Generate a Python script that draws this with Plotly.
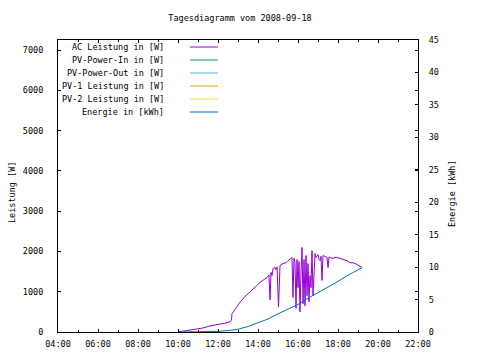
import plotly.graph_objects as go

# ---- data (time in decimal hours) ----
power_t = [10.00, 10.30, 10.60, 10.90, 11.25, 11.60, 11.85, 12.10, 12.35, 12.60,
           12.675, 12.70, 12.90, 13.10, 13.35, 13.60, 13.85, 14.10, 14.35, 14.45,
           14.55, 14.60, 14.65, 14.70, 14.75, 14.85, 14.90, 14.95, 15.025, 15.10,
           15.25, 15.40, 15.50, 15.60, 15.70, 15.75, 15.80, 15.85, 15.90, 15.95,
           16.00, 16.05, 16.10, 16.15, 16.20, 16.25, 16.30, 16.35, 16.40, 16.45,
           16.50, 16.55, 16.60, 16.65, 16.70, 16.75, 16.80, 16.85, 16.90, 17.00,
           17.05, 17.10, 17.15, 17.20, 17.25, 17.35, 17.45, 17.50, 17.55, 17.70,
           17.90, 18.10, 18.30, 18.45, 18.60, 18.75, 18.90, 19.05, 19.15, 19.20]
ac_power = [0, 20, 50, 70, 100, 150, 170, 190, 220, 250,
            300, 460, 600, 740, 880, 1000, 1110, 1230, 1320, 1350,
            1420, 800, 1480, 1400, 1580, 1600, 1550, 1620, 620, 1650,
            1700, 1720, 1770, 1800, 1850, 860, 1830, 1700, 590, 1800,
            1100, 1750, 500, 1500, 2100, 700, 1800, 650, 1900, 900,
            1700, 750, 1400, 1100, 2020, 900, 1700, 1950, 1850, 1920,
            1800, 1770, 1880, 1280, 1900, 1870, 1850, 1600, 1860, 1830,
            1850, 1830, 1800, 1770, 1720, 1720, 1690, 1650, 1620, 1600]

energy_t = [10.0, 10.5, 11.0, 11.5, 12.0, 12.5, 13.0, 13.5, 14.0, 14.5,
            15.0, 15.5, 16.0, 16.5, 17.0, 17.5, 18.0, 18.5, 19.0, 19.2]
energy = [0, 0.02, 0.05, 0.08, 0.1, 0.22, 0.42, 0.85, 1.4, 2.0,
          2.8, 3.5, 4.25, 5.2, 6.05, 6.85, 7.8, 8.75, 9.55, 9.9]

pv_power_in = []
pv_power_out = []
pv1_power = []
pv2_power = []

x_tickvals = [4, 6, 8, 10, 12, 14, 16, 18, 20, 22]
x_ticktext = ["04:00", "06:00", "08:00", "10:00", "12:00", "14:00",
              "16:00", "18:00", "20:00", "22:00"]
x_minor = [5, 7, 9, 11, 13, 15, 17, 19, 21]

series_names = ["AC Leistung in [W]", "PV-Power-In in [W]", "PV-Power-Out in [W]",
                "PV-1 Leistung in [W]", "PV-2 Leistung in [W]", "Energie in [kWh]"]
series_colors = ["#9400d3", "#009e73", "#56b4e9", "#e69f00", "#f0e442", "#0072b2"]

FONT = "DejaVu Sans Mono"
W, H = 480, 360
L, R, T, B = 58, 62, 40, 28
PW, PH = W - L - R, H - T - B

fig = go.Figure()
fig.add_trace(go.Scatter(x=power_t, y=ac_power, mode="lines", name=series_names[0],
                         line=dict(color=series_colors[0], width=1), showlegend=False))
for nm, col, vals in zip(series_names[1:5], series_colors[1:5],
                         [pv_power_in, pv_power_out, pv1_power, pv2_power]):
    fig.add_trace(go.Scatter(x=[], y=vals, mode="lines", name=nm,
                             line=dict(color=col, width=1), showlegend=False))
fig.add_trace(go.Scatter(x=energy_t, y=energy, mode="lines", name=series_names[5],
                         line=dict(color=series_colors[5], width=1), yaxis="y2",
                         showlegend=False))

# legend (gnuplot style: text right-aligned, then line sample)
legend_rows = [47, 60, 73, 86, 99, 112]
annotations = []
shapes = []
for nm, col, yy in zip(series_names, series_colors, legend_rows):
    py = (H - B - yy) / PH
    annotations.append(dict(text=nm, x=(166 - L) / PW, y=py, xref="paper", yref="paper",
                            xanchor="right", yanchor="middle", showarrow=False,
                            font=dict(family=FONT, size=8.5, color="black")))
    shapes.append(dict(type="line", xref="paper", yref="paper",
                       x0=(190 - L) / PW, x1=(218 - L) / PW, y0=py, y1=py,
                       line=dict(color=col, width=1)))

annotations.append(dict(text="Leistung [W]", x=(12 - L) / PW, y=(H - B - 193) / PH,
                        xref="paper", yref="paper", textangle=-90, showarrow=False,
                        xanchor="center", yanchor="middle",
                        font=dict(family=FONT, size=8.5, color="black")))
annotations.append(dict(text="Energie [kWh]", x=(452 - L) / PW, y=(H - B - 194) / PH,
                        xref="paper", yref="paper", textangle=-90, showarrow=False,
                        xanchor="center", yanchor="middle",
                        font=dict(family=FONT, size=8.5, color="black")))

fig.update_layout(
    width=W, height=H,
    margin=dict(l=L, r=R, t=T, b=B),
    paper_bgcolor="white", plot_bgcolor="white",
    font=dict(family=FONT, size=8.5, color="black"),
    title=dict(text="Tagesdiagramm vom 2008-09-18", x=0.5, xanchor="center",
               y=1 - 18 / H, yanchor="middle", yref="container",
               font=dict(family=FONT, size=8.5, color="black")),
    xaxis=dict(range=[4, 22], tickmode="array", tickvals=x_tickvals, ticktext=x_ticktext,
               ticks="inside", ticklen=3, tickcolor="black", showline=True,
               linecolor="black", linewidth=1, mirror="ticks", showgrid=False,
               zeroline=False, ticklabelstandoff=4,
               minor=dict(tickmode="array", tickvals=x_minor, ticks="inside",
                          ticklen=2, tickcolor="black")),
    yaxis=dict(range=[0, 7250], tickmode="array",
               tickvals=[0, 1000, 2000, 3000, 4000, 5000, 6000, 7000],
               ticks="inside", ticklen=3, tickcolor="black", showline=True,
               linecolor="black", linewidth=1, mirror="ticks", showgrid=False,
               zeroline=False, ticklabelstandoff=12),
    yaxis2=dict(range=[0, 45], overlaying="y", side="right", tickmode="array",
                tickvals=[0, 5, 10, 15, 20, 25, 30, 35, 40, 45],
                ticks="inside", ticklen=3, tickcolor="black", showline=True,
                linecolor="black", linewidth=1, showgrid=False, zeroline=False,
                ticklabelstandoff=8),
    annotations=annotations,
    shapes=shapes,
)

fig.write_html("out.html", config={"displayModeBar": False},
               post_script="document.body.style.margin='0px';document.body.style.overflow='hidden';")
